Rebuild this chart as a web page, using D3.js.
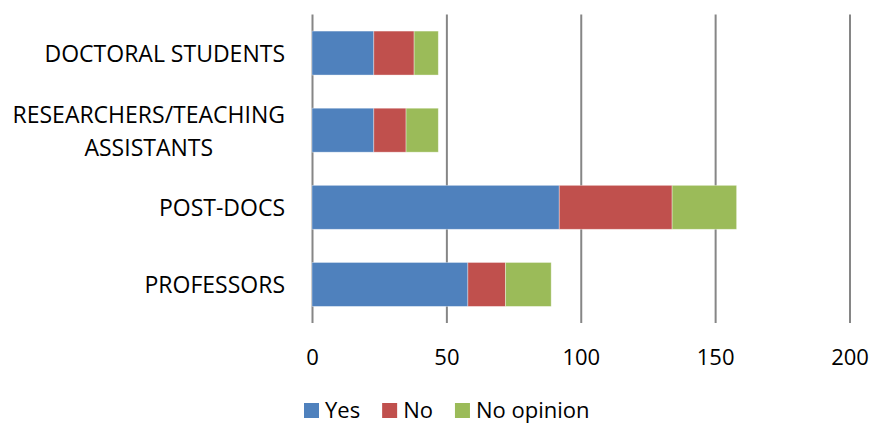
<!DOCTYPE html>
<html>
<head>
<meta charset="utf-8">
<script src="https://cdn.jsdelivr.net/npm/d3@7"></script>
<style>
  html, body { margin: 0; padding: 0; background: #fff; }
  svg { display: block; }
  text { font-family: "Open Sans", "Noto Sans", sans-serif; fill: #000; }
</style>
</head>
<body>
<svg id="chart" width="873" height="423"></svg>
<script>
const categories = [
  ["DOCTORAL STUDENTS"],
  ["RESEARCHERS/TEACHING", "ASSISTANTS"],
  ["POST-DOCS"],
  ["PROFESSORS"]
];
const seriesNames = ["Yes", "No", "No opinion"];
const seriesColors = ["#4F81BD", "#C0504D", "#9BBB59"];
const yesValues = [23, 23, 92, 58];
const noValues = [15, 12, 42, 14];
const noOpinionValues = [9, 12, 24, 17];
const xTicks = [0, 50, 100, 150, 200];

const svg = d3.select("#chart");
const catFont = 23;
const tickFont = 22;
const legFont = 22;

const catKeys = categories.map(c => c.join(" "));
const rows = catKeys.map((k, i) => ({
  key: k,
  "Yes": yesValues[i],
  "No": noValues[i],
  "No opinion": noOpinionValues[i]
}));

const x = d3.scaleLinear().domain([0, 200]).range([312, 849.5]);
const y = d3.scaleBand().domain(catKeys).range([14.5, 323]).paddingInner(0.43).paddingOuter(0.215);

// gridlines
const grid = svg.append("g").attr("transform", `translate(0,323)`)
  .call(d3.axisBottom(x).tickValues(xTicks).tickSize(-(323 - 14.5)).tickFormat(""));
grid.select(".domain").remove();
grid.selectAll("line").attr("stroke", "#868686").attr("stroke-width", 2);

// bars
const stacked = d3.stack().keys(seriesNames)(rows);
const color = d3.scaleOrdinal().domain(seriesNames).range(seriesColors);

svg.append("g").selectAll("g").data(stacked).join("g")
  .attr("fill", d => color(d.key))
  .selectAll("rect").data(d => d).join("rect")
  .attr("x", d => x(d[0]))
  .attr("y", d => y(d.data.key))
  .attr("width", d => x(d[1]) - x(d[0]))
  .attr("height", y.bandwidth())
  .attr("stroke", "rgba(255,255,255,0.45)")
  .attr("stroke-width", 0.8);

// x axis labels
const xa = svg.append("g").attr("transform", `translate(0,323)`)
  .call(d3.axisBottom(x).tickValues(xTicks).tickSize(0).tickPadding(26));
xa.select(".domain").remove();
xa.selectAll("text").attr("font-size", tickFont).attr("font-family", '"Open Sans", sans-serif').attr("fill", "#000");

// category labels
const labelRight = 285;
const lineH = 33;
categories.forEach((lines, i) => {
  const cy = y(catKeys[i]) + y.bandwidth() / 2;
  const g = svg.append("g");
  const texts = lines.map((ln, j) => g.append("text")
    .attr("font-size", catFont)
    .attr("text-anchor", "middle")
    .attr("dominant-baseline", "central")
    .attr("y", cy + (j - (lines.length - 1) / 2) * lineH)
    .text(ln));
  const maxW = d3.max(texts, t => t.node().getComputedTextLength());
  texts.forEach(t => t.attr("x", labelRight - maxW / 2));
});

// legend
const legend = svg.append("g");
let lx = 304;
const ly = 409;
seriesNames.forEach((name, i) => {
  legend.append("rect").attr("x", lx).attr("y", ly - 6).attr("width", 15).attr("height", 15)
    .attr("fill", seriesColors[i]);
  const t = legend.append("text").attr("x", lx + 21).attr("y", ly)
    .attr("dominant-baseline", "central").attr("font-size", legFont).text(name);
  lx += 21 + t.node().getComputedTextLength() + 22;
});
</script>
</body>
</html>
